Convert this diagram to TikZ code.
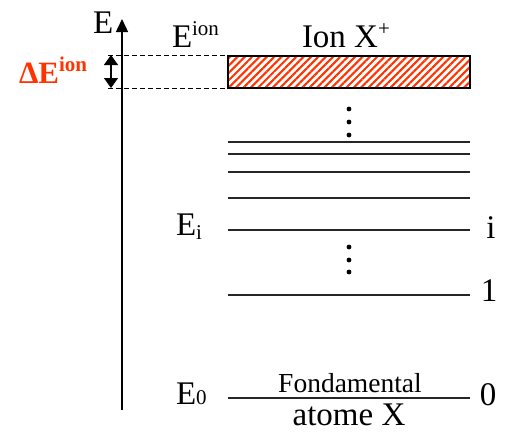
\documentclass[tikz,border=0pt]{standalone}
\usepackage{fontspec}
\setmainfont{Liberation Serif}
\usetikzlibrary{patterns.meta,arrows.meta}
\definecolor{hot}{RGB}{255,51,0}
\newcommand{\smalltxt}[1]{{\fontsize{21}{21}\selectfont #1}}
\begin{document}
\begin{tikzpicture}[x=1pt,y=-1pt,
  level/.style={line width=1.4pt, draw=black!85},
  lbl/.style={inner sep=0pt, outer sep=0pt, font=\fontsize{33}{33}\selectfont},
  dashline/.style={line width=1pt, dash pattern=on 5pt off 3pt},
  dotm/.style={fill=black, circle, inner sep=0pt, minimum size=4.8pt}]
\useasboundingbox (0,0) rectangle (513,434);

% axis
\coordinate (axb) at (122,410);
\coordinate (axt) at (122,19);
\draw[line width=1.4pt, -{Triangle[length=13pt,width=12pt]}] (axb) -- (axt);
\node[lbl, anchor=base west] (E) at (93,33) {E};

% ionisation band
\node[lbl, anchor=base west] (Eion) at (172,47) {E\raisebox{0.36em}{\smalltxt{ion}}};
\node[lbl, anchor=base west] (ion) at (302,47) {Ion X\raisebox{0.36em}{\smalltxt{+}}};
\fill[pattern={Lines[angle=45,distance=5.2pt,line width=2.1pt]}, pattern color=hot] (228,56) rectangle (470,88);
\draw[line width=1.4pt] (228,56) rectangle (470,88);
\coordinate (d1a) at (108,55); \coordinate (d1b) at (228,55);
\coordinate (d2a) at (108,88); \coordinate (d2b) at (228,88);
\draw[dashline] (d1a) -- (d1b);
\draw[dashline] (d2a) -- (d2b);
\coordinate (da) at (111,55); \coordinate (db) at (111,88);
\draw[line width=1.4pt, {Triangle[length=10pt,width=14pt]}-{Triangle[length=10pt,width=14pt]}] (da) -- (db);
\node[lbl, anchor=base west, text=hot, font=\fontsize{31}{31}\selectfont\bfseries] (dE) at (19,83) {ΔE\raisebox{0.36em}{\fontsize{21}{21}\selectfont ion}};

% dots
\foreach \y [count=\k] in {109,122,135} \node[dotm] (ta\k) at (349,\y) {};
\foreach \y [count=\k] in {247,260,272} \node[dotm] (tb\k) at (349,\y) {};

% levels
\foreach \y [count=\k] in {142,154,172,198,230,295,398} {
  \coordinate (L\k a) at (228,\y); \coordinate (L\k b) at (470,\y);
  \draw[level] (L\k a) -- (L\k b);
}

% labels
\node[lbl, anchor=base west] (Ei) at (176,235) {E\raisebox{-0.14em}{\smalltxt{i}}};
\node[lbl, anchor=base west] (E0) at (176,404) {E\raisebox{-0.02em}{\smalltxt{0}}};
\node[lbl, anchor=base] (ni) at (491,238) {i};
\node[lbl, anchor=base] (n1) at (489,301) {1};
\node[lbl, anchor=base] (n0) at (488,405) {0};
\node[lbl, anchor=base, font=\fontsize{27.5}{27.5}\selectfont] (fond) at (350,392) {Fondamental};
\node[lbl, anchor=base] (atome) at (349,425) {atome X};
\end{tikzpicture}
\end{document}
